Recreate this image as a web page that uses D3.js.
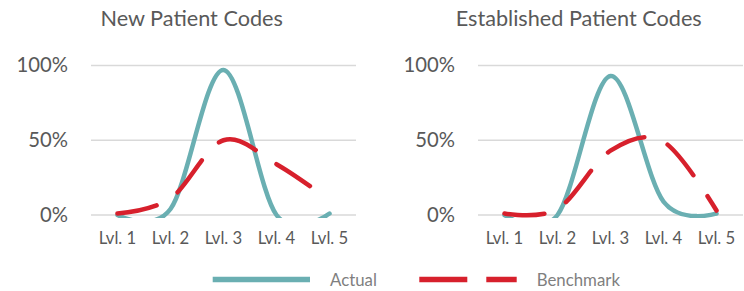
<!DOCTYPE html>
<html><head><meta charset="utf-8">
<script src="https://cdn.jsdelivr.net/npm/d3@7"></script>
<style>html,body{margin:0;padding:0;background:#fff;} svg{display:block}</style>
</head><body>
<svg id="chart" width="744" height="291"></svg>
<script>
// ---- data ----
const categories = ["Lvl. 1", "Lvl. 2", "Lvl. 3", "Lvl. 4", "Lvl. 5"];
const newActual = [0, 0.04, 0.97, 0, 0.01];
const newBenchmark = [0.01, 0.11, 0.5, 0.34, 0.1];
const estActual = [0, 0, 0.93, 0.09, 0.01];
const estBenchmark = [0.01, 0.04, 0.43, 0.49, 0.03];
const yTicks = [0, 0.5, 1];
const titles = ["New Patient Codes", "Established Patient Codes"];
const seriesNames = ["Actual", "Benchmark"];

// ---- style ----
const FONT = "Lato, 'Open Sans', sans-serif";
const TEAL = "#6AAFB2", RED = "#D7202C", GRID = "#D9D9D9", TXT = "#595959", LEG = "#7F7F7F";
const ctx = document.createElement("canvas").getContext("2d");
function fit(text, w) { ctx.font = "100px " + FONT; return 100 * w / ctx.measureText(text).width; }
const titleSize = fit(titles[0], 183);
const ySize = fit("100%", 51.5);
const xSize = fit("Lvl. 3", 37.5);
const legSize = fit("Benchmark", 83.3);

const svg = d3.select("#chart");
const y = d3.scaleLinear().domain([0, 1]).range([215, 65.5]);

const panels = [
  { title: titles[0], actual: newActual, bench: newBenchmark, x0: 91, x1: 356, titleX: 191.7 },
  { title: titles[1], actual: estActual, bench: estBenchmark, x0: 478, x1: 743, titleX: 578.7 }
];

panels.forEach((p, i) => {
  const x = d3.scalePoint().domain(categories).range([p.x0, p.x1]).padding(0.5);
  const g = svg.append("g");

  g.append("text").attr("x", p.titleX).attr("y", 25.7).attr("text-anchor", "middle")
    .attr("font-family", FONT).attr("font-size", titleSize).attr("fill", TXT).text(p.title);

  g.selectAll("line.grid").data(yTicks).join("line").attr("class", "grid")
    .attr("x1", p.x0).attr("x2", p.x1).attr("y1", d => y(d)).attr("y2", d => y(d))
    .attr("stroke", GRID).attr("stroke-width", 1.3);

  g.selectAll("text.ytick").data(yTicks).join("text").attr("class", "ytick")
    .attr("x", p.x0 - 23).attr("y", d => y(d) + 6.9).attr("text-anchor", "end")
    .attr("font-family", FONT).attr("font-size", ySize).attr("fill", TXT)
    .text(d => d3.format(".0%")(d));

  g.selectAll("text.xtick").data(categories).join("text").attr("class", "xtick")
    .attr("x", d => x(d)).attr("y", 244.3).attr("text-anchor", "middle")
    .attr("font-family", FONT).attr("font-size", xSize).attr("fill", TXT).text(d => d);

  const clipId = "clip" + i;
  svg.append("defs").append("clipPath").attr("id", clipId).append("rect")
    .attr("x", p.x0 - 10).attr("y", 40).attr("width", p.x1 - p.x0 + 20).attr("height", 218 - 40);

  const line = d3.line().x((d, j) => x(categories[j])).y(d => y(d)).curve(d3.curveCardinal.tension(0));
  const lg = g.append("g").attr("clip-path", `url(#${clipId})`);
  lg.append("path").attr("d", line(p.actual)).attr("fill", "none").attr("stroke", TEAL)
    .attr("stroke-width", 4.5).attr("stroke-linecap", "round").attr("stroke-linejoin", "round");
  lg.append("path").attr("d", line(p.bench)).attr("fill", "none").attr("stroke", RED)
    .attr("stroke-width", 4.5).attr("stroke-linecap", "round").attr("stroke-linejoin", "round")
    .attr("stroke-dasharray", "40 25");
});

// ---- legend ----
const leg = svg.append("g");
leg.append("line").attr("x1", 212.7).attr("x2", 310).attr("y1", 279.5).attr("y2", 279.5)
  .attr("stroke", TEAL).attr("stroke-width", 5.5);
leg.append("text").attr("x", 330).attr("y", 285.5).attr("font-family", FONT)
  .attr("font-size", legSize).attr("fill", LEG).text(seriesNames[0]);
leg.append("line").attr("x1", 419.3).attr("x2", 516.7).attr("y1", 279.5).attr("y2", 279.5)
  .attr("stroke", RED).attr("stroke-width", 5.5).attr("stroke-dasharray", "48 19");
leg.append("text").attr("x", 536.7).attr("y", 285.5).attr("font-family", FONT)
  .attr("font-size", legSize).attr("fill", LEG).text(seriesNames[1]);
</script>
</body></html>
